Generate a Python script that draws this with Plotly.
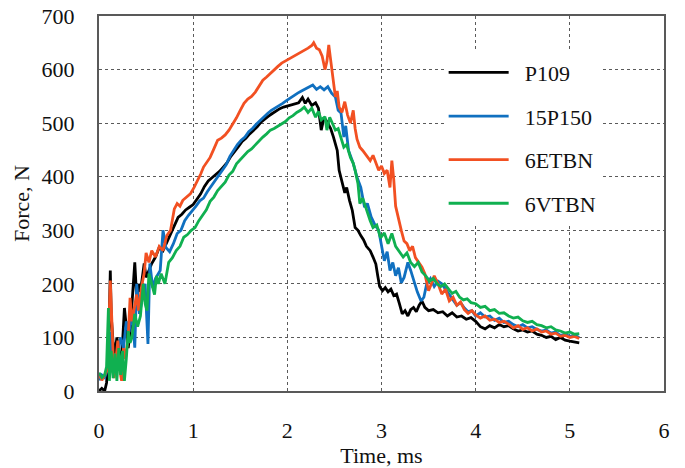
import plotly.graph_objects as go

# ---------------- data ----------------
series_names = ["P109", "15P150", "6ETBN", "6VTBN"]

p109_t = [0.00, 0.03, 0.06, 0.08, 0.10, 0.12, 0.13, 0.15, 0.17, 0.19, 0.21, 0.23, 0.25, 0.27, 0.29, 0.31,
          0.33, 0.36, 0.38, 0.40, 0.42, 0.44, 0.48, 0.50, 0.53, 0.56, 0.60, 0.64, 0.68, 0.72, 0.76, 0.80,
          0.84, 0.88, 0.92, 0.96, 1.00, 1.04, 1.08, 1.12, 1.16, 1.20, 1.24, 1.28, 1.32, 1.36, 1.40, 1.44,
          1.48, 1.52, 1.56, 1.60, 1.64, 1.68, 1.72, 1.76, 1.80, 1.84, 1.88, 1.92, 1.96, 2.00, 2.04, 2.08,
          2.12, 2.16, 2.19, 2.22, 2.26, 2.30, 2.33, 2.36, 2.39, 2.43, 2.46, 2.49, 2.51, 2.53, 2.55, 2.57,
          2.59, 2.61, 2.63, 2.66, 2.69, 2.72, 2.75, 2.78, 2.81, 2.84, 2.88, 2.91, 2.94, 2.96, 2.98, 3.01,
          3.04, 3.07, 3.10, 3.13, 3.16, 3.19, 3.22, 3.25, 3.28, 3.31, 3.34, 3.37, 3.40, 3.43, 3.46, 3.50,
          3.55, 3.60, 3.65, 3.70, 3.75, 3.80, 3.85, 3.90, 3.95, 4.00, 4.05, 4.10, 4.15, 4.20, 4.25, 4.30,
          4.35, 4.40, 4.45, 4.50, 4.55, 4.60, 4.65, 4.70, 4.75, 4.80, 4.85, 4.90, 4.95, 5.00, 5.05, 5.10]
p109_f = [0, 5, 0, 15, 60, 225, 140, 90, 70, 100, 75, 50, 90, 155, 120, 80,
          110, 180, 240, 174, 200, 185, 238, 212, 225, 238, 250, 268, 262, 278, 295, 310,
          324, 330, 338, 343, 348, 358, 368, 382, 392, 398, 404, 410, 418, 426, 438, 446,
          456, 466, 472, 480, 486, 493, 502, 508, 513, 518, 523, 527, 530, 532, 534, 536,
          538, 548, 537, 545, 533, 538, 528, 487, 511, 500, 490, 474, 460, 449, 412, 395,
          384, 370, 380, 356, 337, 305, 300, 290, 282, 270, 262, 250, 237, 215, 195, 187,
          193, 185, 190, 178, 181, 163, 144, 150, 140, 152, 156, 148, 160, 168, 156, 150,
          152, 146, 148, 140, 146, 138, 140, 134, 137, 130, 120, 116, 122, 118, 124, 120,
          122, 116, 112, 114, 110, 112, 106, 104, 100, 102, 96, 100, 95, 93, 92, 90]

p15_t = [0.00, 0.03, 0.06, 0.09, 0.12, 0.14, 0.17, 0.20, 0.23, 0.26, 0.29, 0.32, 0.35, 0.38, 0.40, 0.43,
         0.46, 0.49, 0.52, 0.54, 0.57, 0.60, 0.65, 0.68, 0.71, 0.75, 0.79, 0.83, 0.87, 0.91, 0.95, 0.99,
         1.03, 1.07, 1.11, 1.15, 1.19, 1.23, 1.27, 1.31, 1.35, 1.39, 1.43, 1.47, 1.51, 1.55, 1.59, 1.63,
         1.67, 1.71, 1.75, 1.79, 1.83, 1.87, 1.91, 1.95, 1.99, 2.03, 2.07, 2.11, 2.15, 2.19, 2.23, 2.27,
         2.31, 2.35, 2.39, 2.43, 2.47, 2.51, 2.54, 2.57, 2.60, 2.62, 2.65, 2.70, 2.74, 2.78, 2.82, 2.85,
         2.89, 2.93, 2.97, 3.00, 3.03, 3.06, 3.09, 3.12, 3.15, 3.18, 3.21, 3.24, 3.28, 3.31, 3.35, 3.38,
         3.42, 3.45, 3.48, 3.52, 3.56, 3.60, 3.64, 3.68, 3.72, 3.76, 3.80, 3.84, 3.88, 3.92, 3.96, 4.00,
         4.05, 4.10, 4.15, 4.20, 4.25, 4.30, 4.35, 4.40, 4.45, 4.50, 4.55, 4.60, 4.65, 4.70, 4.75, 4.80,
         4.85, 4.90, 4.95, 5.00, 5.05, 5.10]
p15_f = [20, 30, 25, 40, 110, 60, 40, 70, 100, 80, 130, 110, 150, 81, 200, 144,
         170, 200, 88, 238, 193, 210, 225, 300, 268, 260, 275, 294, 300, 318, 328, 336,
         345, 355, 360, 372, 382, 392, 400, 410, 422, 438, 450, 460, 468, 474, 484, 490,
         498, 505, 511, 518, 524, 528, 532, 537, 542, 547, 552, 556, 560, 564, 568, 571,
         563, 568, 562, 568, 556, 549, 524, 519, 474, 495, 449, 425, 399, 380, 343, 350,
         325, 310, 300, 270, 243, 260, 225, 240, 215, 230, 202, 212, 240, 225, 200, 185,
         168, 175, 200, 210, 195, 205, 200, 190, 180, 170, 160, 165, 155, 148, 150, 140,
         146, 138, 140, 132, 136, 128, 130, 124, 120, 124, 118, 120, 115, 112, 114, 108,
         110, 104, 106, 102, 104, 100]

e6_t = [0.00, 0.03, 0.06, 0.09, 0.12, 0.14, 0.16, 0.18, 0.20, 0.22, 0.24, 0.26, 0.28, 0.31, 0.33, 0.35,
        0.38, 0.40, 0.42, 0.45, 0.48, 0.50, 0.53, 0.56, 0.60, 0.64, 0.68, 0.72, 0.76, 0.80, 0.83, 0.86,
        0.89, 0.93, 0.97, 1.01, 1.05, 1.08, 1.11, 1.15, 1.18, 1.22, 1.26, 1.30, 1.34, 1.38, 1.42, 1.46,
        1.50, 1.54, 1.58, 1.62, 1.66, 1.70, 1.74, 1.78, 1.82, 1.86, 1.90, 1.94, 1.98, 2.02, 2.06, 2.10,
        2.14, 2.18, 2.22, 2.26, 2.28, 2.31, 2.34, 2.37, 2.40, 2.42, 2.44, 2.46, 2.48, 2.51, 2.53, 2.55,
        2.58, 2.61, 2.64, 2.67, 2.70, 2.72, 2.74, 2.77, 2.80, 2.84, 2.88, 2.91, 2.94, 2.97, 3.00, 3.03,
        3.06, 3.09, 3.11, 3.13, 3.15, 3.18, 3.21, 3.24, 3.27, 3.30, 3.33, 3.36, 3.40, 3.43, 3.46, 3.50,
        3.53, 3.56, 3.60, 3.64, 3.68, 3.72, 3.76, 3.80, 3.84, 3.88, 3.92, 3.96, 4.00, 4.05, 4.10, 4.15,
        4.20, 4.25, 4.30, 4.35, 4.40, 4.45, 4.50, 4.55, 4.60, 4.65, 4.70, 4.75, 4.80, 4.85, 4.90, 4.95,
        5.00, 5.05, 5.10]
e6_f = [32, 20, 30, 40, 206, 107, 24, 60, 94, 40, 19, 80, 60, 100, 174, 130,
        163, 180, 150, 193, 220, 258, 240, 262, 250, 270, 262, 290, 300, 340, 350, 345,
        356, 362, 368, 380, 393, 405, 418, 428, 436, 452, 468, 472, 478, 487, 498, 510,
        524, 537, 545, 550, 558, 568, 580, 586, 593, 600, 606, 612, 616, 620, 624, 628,
        631, 636, 640, 645, 650, 640, 637, 625, 600, 615, 646, 618, 586, 549, 560, 530,
        520, 540, 515, 500, 524, 490, 470, 455, 449, 440, 430, 440, 425, 412, 420, 406,
        412, 380, 430, 395, 345, 320, 300, 280, 275, 262, 270, 249, 240, 231, 219, 187,
        200, 215, 200, 181, 190, 168, 175, 160, 166, 152, 145, 150, 142, 136, 140, 132,
        134, 128, 130, 125, 118, 122, 115, 118, 112, 116, 110, 112, 106, 108, 102, 104,
        100, 102, 98]

v6_t = [0.00, 0.03, 0.06, 0.08, 0.10, 0.11, 0.13, 0.15, 0.17, 0.19, 0.21, 0.23, 0.25, 0.27, 0.29, 0.31,
        0.33, 0.35, 0.38, 0.41, 0.44, 0.47, 0.49, 0.51, 0.53, 0.56, 0.59, 0.61, 0.63, 0.66, 0.70, 0.74,
        0.78, 0.82, 0.86, 0.90, 0.94, 0.98, 1.02, 1.06, 1.10, 1.14, 1.18, 1.22, 1.26, 1.30, 1.34, 1.38,
        1.42, 1.46, 1.50, 1.54, 1.58, 1.62, 1.66, 1.70, 1.74, 1.78, 1.82, 1.86, 1.90, 1.94, 1.98, 2.02,
        2.06, 2.10, 2.14, 2.18, 2.22, 2.26, 2.30, 2.33, 2.36, 2.40, 2.42, 2.45, 2.48, 2.51, 2.54, 2.57,
        2.60, 2.63, 2.67, 2.70, 2.72, 2.75, 2.77, 2.80, 2.84, 2.88, 2.91, 2.95, 2.99, 3.03, 3.07, 3.11,
        3.15, 3.19, 3.23, 3.27, 3.31, 3.35, 3.39, 3.43, 3.47, 3.51, 3.55, 3.59, 3.63, 3.67, 3.71, 3.75,
        3.79, 3.83, 3.87, 3.91, 3.95, 4.00, 4.05, 4.10, 4.15, 4.20, 4.25, 4.30, 4.35, 4.40, 4.45, 4.50,
        4.55, 4.60, 4.65, 4.70, 4.75, 4.80, 4.85, 4.90, 4.95, 5.00, 5.05, 5.10]
v6_f = [34, 25, 30, 45, 155, 19, 75, 24, 70, 19, 80, 30, 75, 19, 60, 112,
        90, 100, 144, 120, 140, 200, 163, 150, 219, 200, 180, 215, 200, 219, 200, 240,
        249, 262, 270, 287, 292, 300, 305, 318, 328, 338, 354, 362, 374, 382, 390, 403,
        410, 424, 432, 438, 447, 452, 460, 466, 474, 480, 487, 490, 494, 498, 503, 510,
        514, 520, 524, 530, 520, 528, 511, 522, 506, 512, 487, 511, 500, 487, 490, 470,
        455, 460, 436, 425, 412, 387, 350, 360, 337, 318, 305, 310, 286, 295, 275, 294,
        270, 260, 250, 258, 240, 232, 240, 222, 215, 205, 210, 200, 195, 200, 190, 182,
        186, 175, 170, 172, 165, 163, 156, 158, 150, 152, 145, 146, 140, 136, 138, 131,
        128, 130, 124, 122, 118, 120, 114, 112, 108, 110, 106, 107]

x_ticks = [0, 1, 2, 3, 4, 5, 6]
y_ticks = [0, 100, 200, 300, 400, 500, 600, 700]
x_title = "Time, ms"
y_title = "Force, N"

# ---------------- figure ----------------
colors = ["#000000", "#1070C0", "#F25022", "#10B050"]
times = [p109_t, p15_t, e6_t, v6_t]
forces = [p109_f, p15_f, e6_f, v6_f]

FONT = "Liberation Serif"
FS = 22
fig = go.Figure()
for i in range(4):
    fig.add_trace(go.Scatter(
        x=times[i], y=forces[i], mode="lines", name="\u2002" + series_names[i],
        line=dict(color=colors[i], width=2.8),
        legendgroup=series_names[i],
    ))

grid = dict(showgrid=True, gridcolor="#5a5a5a", gridwidth=1, griddash="3px,3px",
            showline=True, linecolor="#595959", linewidth=2, mirror=True,
            ticks="", zeroline=False, automargin=False,
            tickfont=dict(family=FONT, size=FS, color="#111"))

fig.update_layout(
    width=685, height=468,
    margin=dict(l=99, r=21, t=16, b=77),
    paper_bgcolor="white", plot_bgcolor="white",
    showlegend=True,
    legend=dict(x=0.61, y=0.905, xanchor="left", yanchor="top",
                bgcolor="white", borderwidth=0,
                font=dict(family=FONT, size=FS, color="#111"),
                itemwidth=60, tracegroupgap=12, traceorder="grouped"),
)
fig.update_xaxes(range=[0, 6], tickvals=x_ticks, ticklabelstandoff=19,
                 title=dict(text=x_title, font=dict(family=FONT, size=FS, color="#111"), standoff=4),
                 **grid)
fig.update_yaxes(range=[0, 700], tickvals=y_ticks, ticklabelstandoff=18,
                 title=dict(text=y_title, font=dict(family=FONT, size=FS, color="#111"), standoff=6),
                 **grid)

fig.write_html("out.html")
